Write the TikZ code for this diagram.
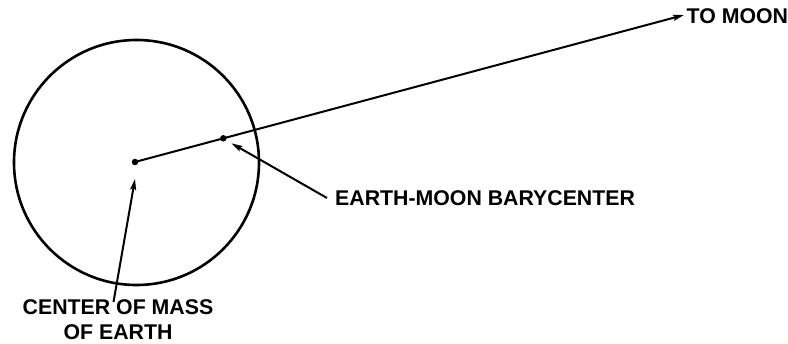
\documentclass[tikz,border=0pt]{standalone}
\usepackage{fontspec}
\setmainfont{Liberation Sans}
\usetikzlibrary{arrows.meta}
\begin{document}
\begin{tikzpicture}[x=1pt,y=-1pt,
  lbl/.style={font=\bfseries\fontsize{21.3}{25}\selectfont, inner sep=0pt},
  dotnode/.style={circle, fill=black, inner sep=0pt, minimum size=6.5pt},
  pointer/.style={line width=2pt, -{Stealth[length=11pt,width=6pt,inset=2pt]}}]
\useasboundingbox (0,0) rectangle (788,344);
\node[draw, circle, line width=2.6pt, minimum size=245pt, inner sep=0pt] (earthc) at (136.5,162.5) {};
\node[dotnode] (earth) at (135,162) {};
\node[dotnode] (bary) at (223.3,138.3) {};
\coordinate (moontip) at (684,15);
\draw[pointer] (earth.center) -- (moontip);
\node[lbl, anchor=base west] (tomoon) at (686.5,23.3) {TO MOON};
\node[lbl, anchor=base west] (barylbl) at (335,206) {EARTH-MOON BARYCENTER};
\coordinate (barytail) at (327,198);
\coordinate (barytip) at (231.5,143.3);
\draw[pointer] (barytail) -- (barytip);
\node[lbl, align=center, anchor=north] (comlbl) at (118,299) {CENTER OF MASS\\OF EARTH};
\coordinate (comtail) at (113.5,302);
\coordinate (comtip) at (135,179);
\draw[pointer] (comtail) -- (comtip);
\end{tikzpicture}
\end{document}
